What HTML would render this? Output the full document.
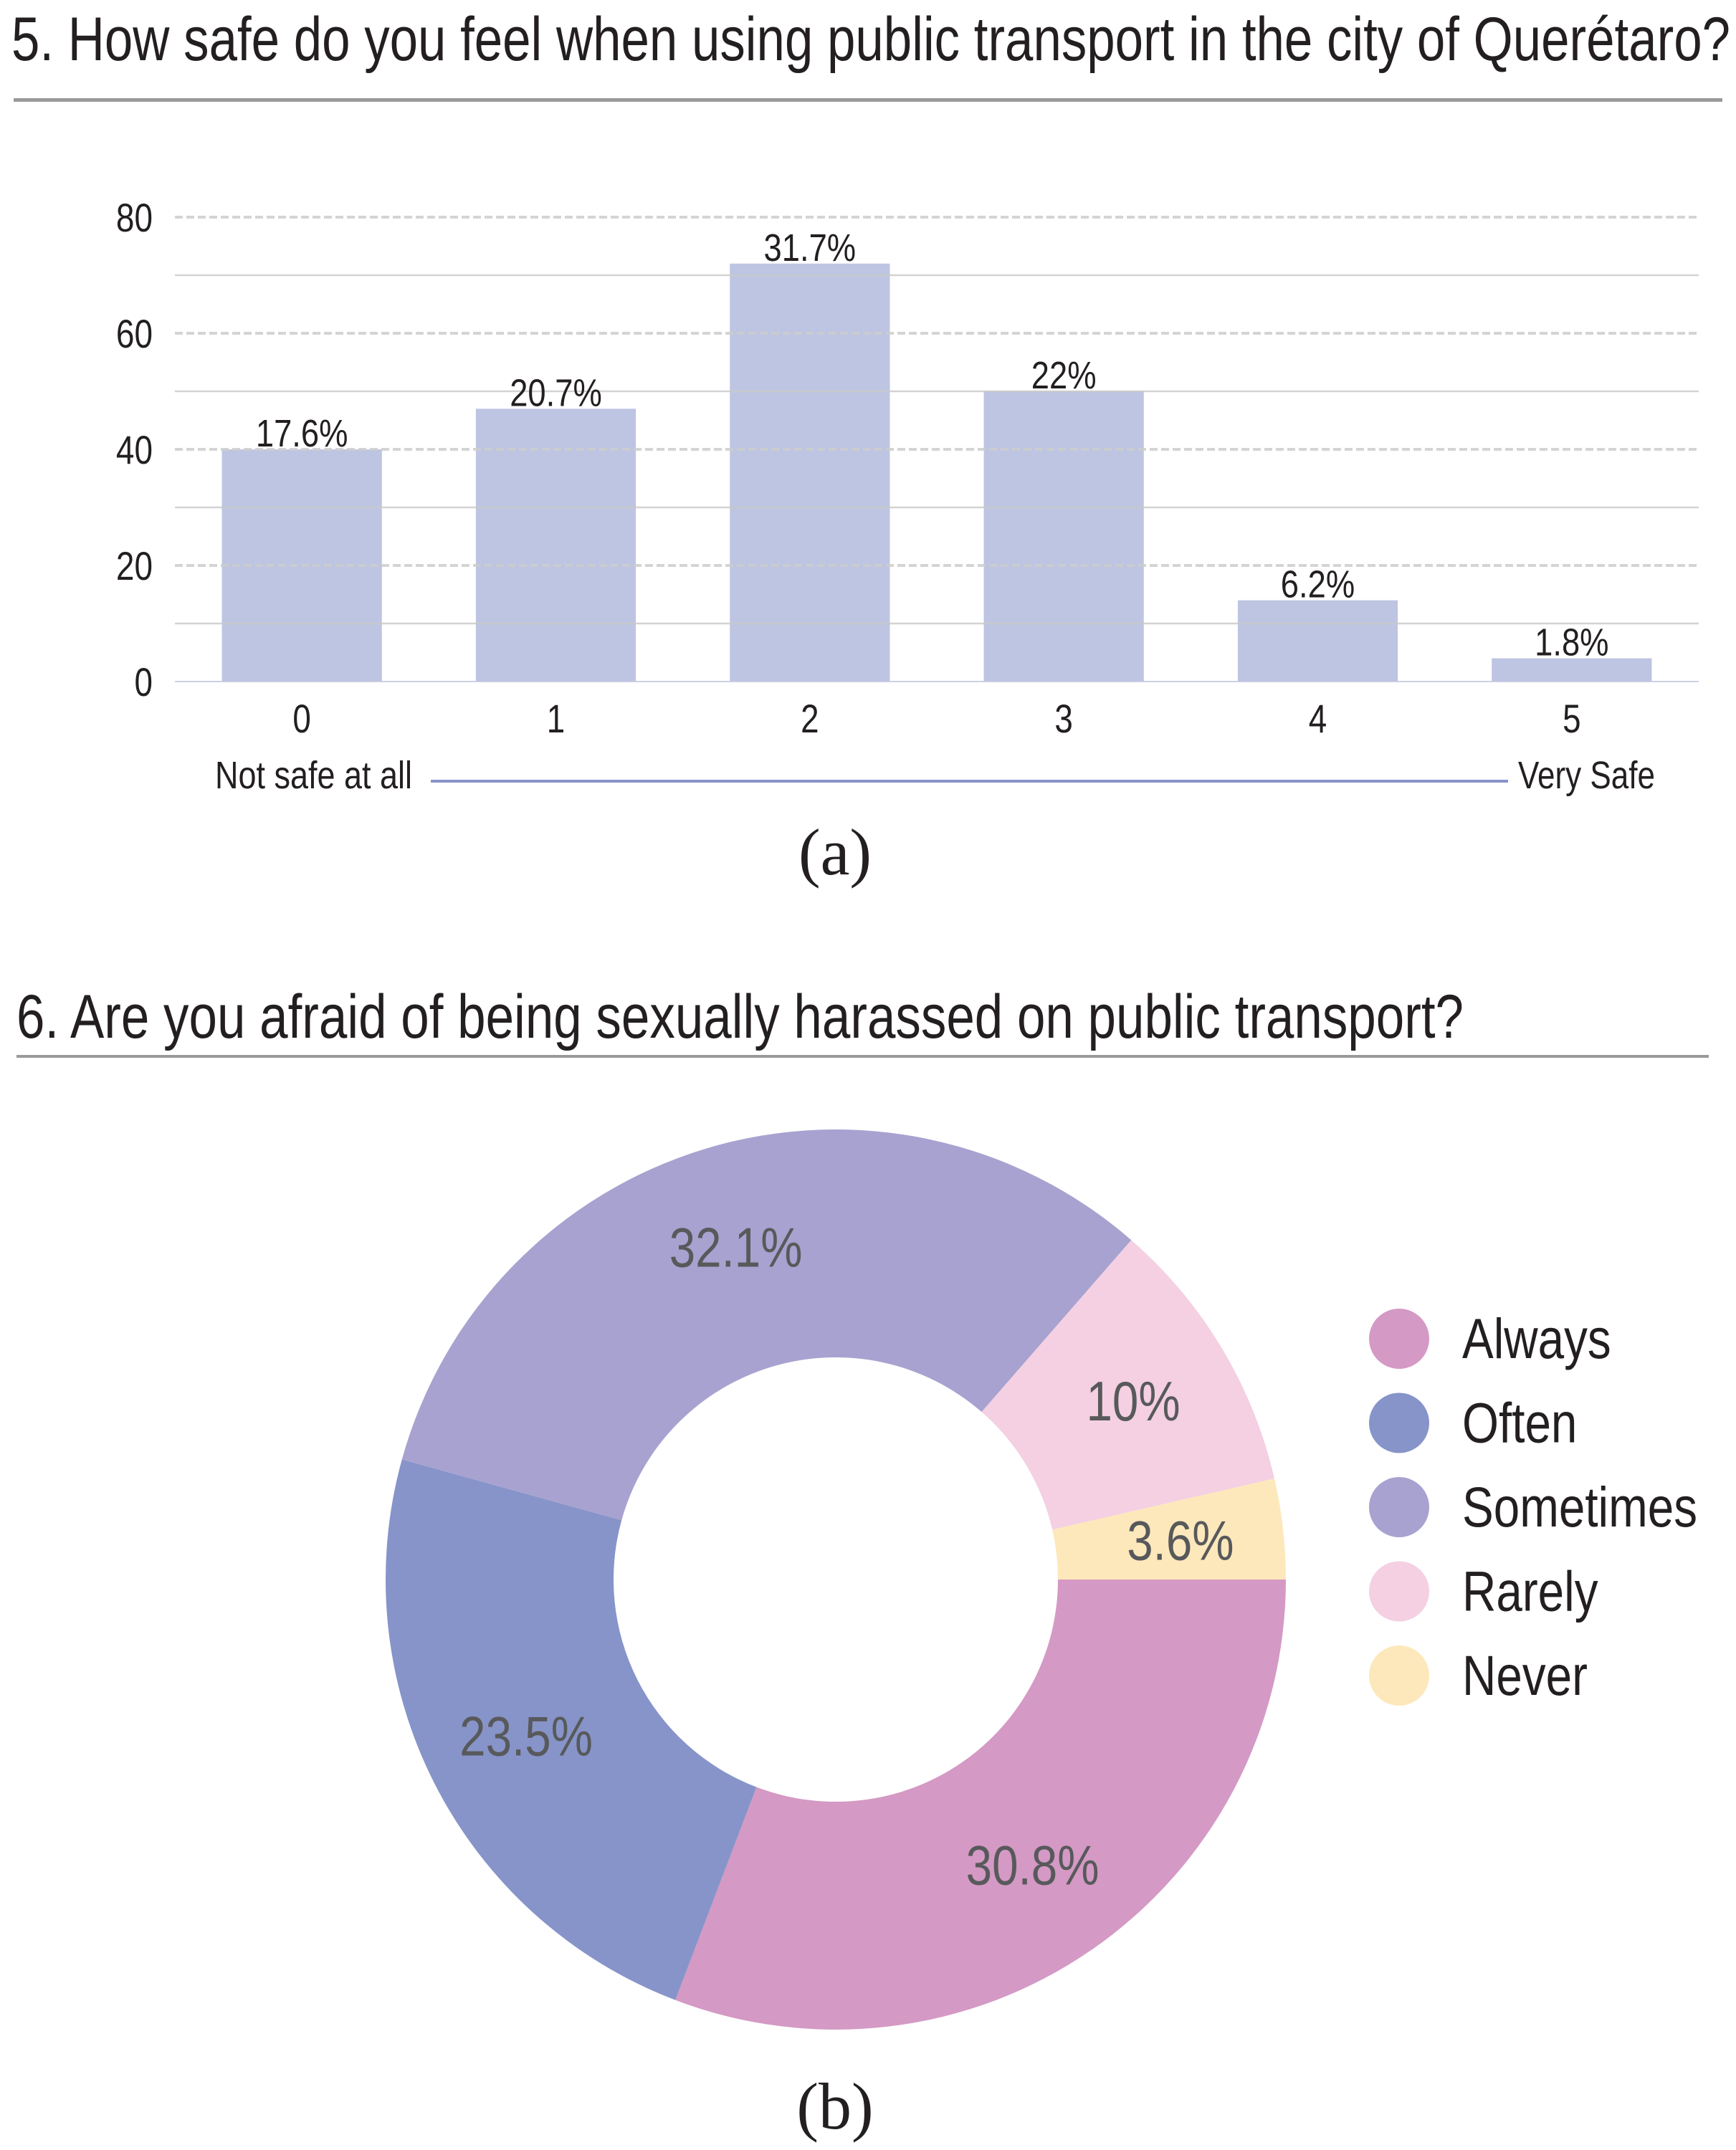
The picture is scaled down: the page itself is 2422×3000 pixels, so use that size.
<!DOCTYPE html>
<html><head><meta charset="utf-8"><style>
html,body{margin:0;padding:0;background:#fff;}
svg{display:block;font-family:"Liberation Sans",sans-serif;}
</style></head><body>
<svg id="chart" width="2422" height="3000" viewBox="0 0 2422 3000" xmlns="http://www.w3.org/2000/svg">
<text x="16" y="84" font-size="86" fill="#231f20" textLength="2398" lengthAdjust="spacingAndGlyphs">5.  How safe do you feel when using public transport in the city of Querétaro?</text>
<rect x="19" y="137" width="2384" height="5" fill="#9a9a9a"/>
<g id="bars"></g>
<text x="300" y="1100" font-size="54" fill="#231f20" textLength="275" lengthAdjust="spacingAndGlyphs">Not safe at all</text>
<rect x="601" y="1088" width="1503" height="4" fill="#8893c8"/>
<text x="2118" y="1100" font-size="54" fill="#231f20" textLength="191" lengthAdjust="spacingAndGlyphs">Very Safe</text>
<text x="1165" y="1220" font-size="92" text-anchor="middle" font-family="Liberation Serif, serif" fill="#231f20">(a)</text>
<text x="23" y="1448" font-size="86" fill="#231f20" textLength="2019" lengthAdjust="spacingAndGlyphs">6.  Are you afraid of being sexually harassed on public transport?</text>
<rect x="23" y="1472" width="2361" height="4" fill="#9a9a9a"/>
<g id="donut"></g>
<g id="legend"></g>
<text x="1165" y="2970" font-size="92" text-anchor="middle" font-family="Liberation Serif, serif" fill="#231f20">(b)</text>
</svg>
<script>
const barCategories = ["0","1","2","3","4","5"];
const barValues = [40, 47, 72, 50, 14, 4];
const barLabels = ["17.6%","20.7%","31.7%","22%","6.2%","1.8%"];
const yTicks = [0,20,40,60,80];
const yMinor = [10,30,50,70];

const donutCategories = ["Always","Often","Sometimes","Rarely","Never"];
const donutValues = [30.8, 23.5, 32.1, 10, 3.6];
const donutLabels = ["30.8%","23.5%","32.1%","10%","3.6%"];
const donutColors = ["#d499c4","#8794c9","#a8a2d0","#f4d0e2","#fde8bb"];

const NS = "http://www.w3.org/2000/svg";
function mk(tag, attrs, parent){ const e=document.createElementNS(NS,tag); for(const k in attrs) e.setAttribute(k,attrs[k]); parent.appendChild(e); return e; }
function squeeze(t,f){ const w=t.getComputedTextLength(); t.setAttribute('textLength', (w*f).toFixed(1)); t.setAttribute('lengthAdjust','spacingAndGlyphs'); }

const plotL=244, plotR=2370, y0=951, yTop=303, yMax=80;
const yS = v => y0 - (y0-yTop)*v/yMax;
const band = (plotR-plotL)/barCategories.length;
const xC = i => plotL + band*(i+0.5);
const barW = band*0.63;
const gB = document.getElementById('bars');

barValues.forEach((v,i)=>{
  const r = mk('rect',{x:xC(i)-barW/2, y:yS(v), width:barW, height:y0-yS(v), fill:'#bec5e2'}, gB);
  
  
});
yMinor.forEach(v=>{
  const l = mk('line',{x1:plotL,x2:plotR,y1:yS(v),y2:yS(v),stroke:'#c8c8c8','stroke-width':2.5,'stroke-opacity':0.8}, gB);
  
  
});
yTicks.forEach(v=>{
  const l = mk('line',{x1:plotL,x2:plotR,y1:yS(v),y2:yS(v),stroke:v===0?'#c5c9e0':'#cccccc','stroke-width':v===0?2:4,'stroke-dasharray':v===0?'none':'11 5','stroke-opacity':0.85}, gB);
  
  
  const t = mk('text',{x:213,y:yS(v)+20,'font-size':56,'text-anchor':'end',fill:'#231f20'}, gB);
  t.textContent = v;
  
  
  squeeze(t,0.82);
});
barValues.forEach((v,i)=>{
  const t = mk('text',{x:xC(i),y:yS(v)-4,'font-size':54,'text-anchor':'middle',fill:'#231f20'}, gB);
  t.textContent = barLabels[i];
  
  
  squeeze(t,0.84);
  const c = mk('text',{x:xC(i),y:1022,'font-size':56,'text-anchor':'middle',fill:'#231f20'}, gB);
  c.textContent = barCategories[i];
  
  
  squeeze(c,0.82);
});

const cx=1166, cy=2204, R=628, r=310;
const gD = document.getElementById('donut');
const total = donutValues.reduce((a,b)=>a+b,0);
let acc=0;
donutValues.forEach((v,i)=>{
  const a0 = acc/total*2*Math.PI, a1=(acc+v)/total*2*Math.PI; acc+=v;
  const p=(a,rad)=>[cx+rad*Math.cos(a), cy+rad*Math.sin(a)];
  const large = (a1-a0)>Math.PI?1:0;
  const [x0,yy0]=p(a0,R),[x1,yy1]=p(a1,R),[x2,y2]=p(a1,r),[x3,y3]=p(a0,r);
  const path = mk('path',{d:`M${x0},${yy0} A${R},${R} 0 ${large} 1 ${x1},${yy1} L${x2},${y2} A${r},${r} 0 ${large} 0 ${x3},${y3} Z`, fill:donutColors[i]}, gD);
  
  
  const am=(a0+a1)/2, lr=(R+r)/2+15;
  const t = mk('text',{x:cx+lr*Math.cos(am), y:cy+lr*Math.sin(am)+27,'font-size':78,'text-anchor':'middle',fill:'#58595b'}, gD);
  t.textContent = donutLabels[i];
  
  
  squeeze(t,0.84);
});

const gL = document.getElementById('legend');
donutCategories.forEach((c,i)=>{
  const y = 1868 + i*117.5;
  const e = mk('ellipse',{cx:1952, cy:y, rx:42, ry:42, fill:donutColors[i]}, gL);
  
  
  const t = mk('text',{x:2040, y:y+27,'font-size':79,fill:'#231f20'}, gL);
  t.textContent = c;
  
  
  squeeze(t,0.83);
});
</script>
</body></html>
